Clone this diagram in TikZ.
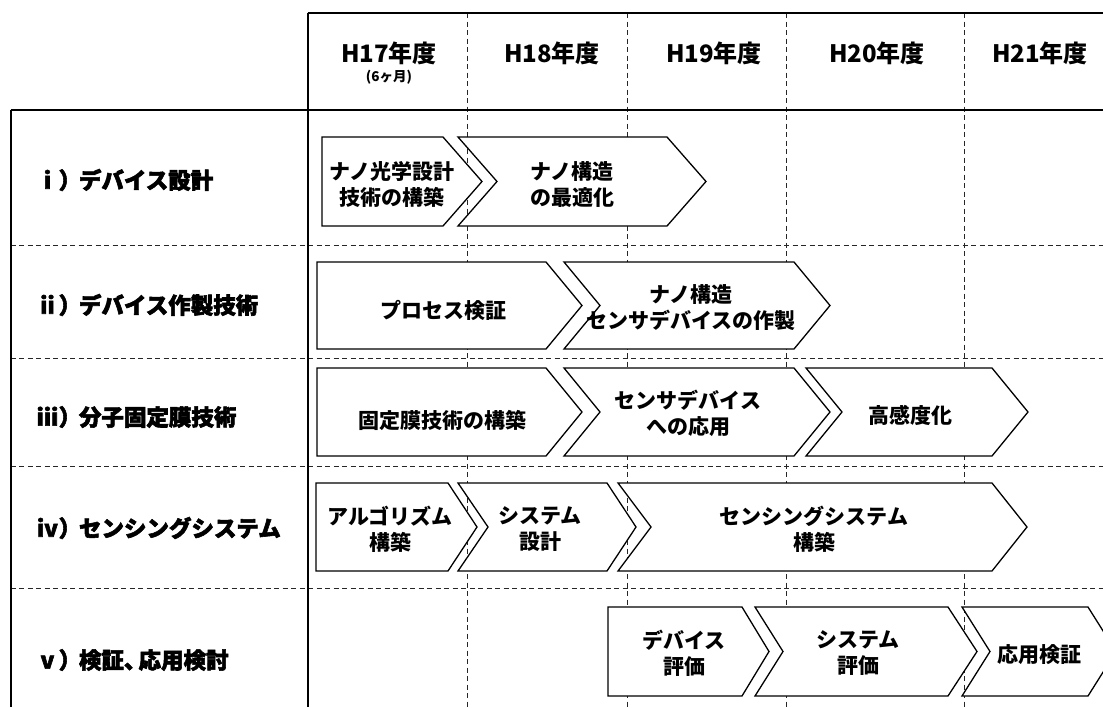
\documentclass[tikz,border=0pt]{standalone}
\usepackage{fontspec}
\setmainfont{Noto Sans CJK JP}
\newfontfamily\heavyfont{Noto Sans CJK JP}[BoldFeatures={FakeBold=2.5}]
\tikzset{
  frame/.style={line width=1.8pt, black},
  gridline/.style={line width=0.9pt, black!85, dash pattern=on 5pt off 3.5pt},
  chev/.style={line width=1.3pt, fill=white, line join=miter},
  txt/.style={font=\bfseries\fontsize{21}{26}\selectfont, align=center, inner sep=0pt},
  head/.style={font=\bfseries\fontsize{24}{28}\selectfont, inner sep=0pt},
  subhead/.style={font=\bfseries\fontsize{13.5}{15}\selectfont, inner sep=0pt},
  lab/.style={font=\heavyfont\bfseries\fontsize{22.5}{26}\selectfont, anchor=west, inner sep=0pt},
}
\newcommand\chevbox[6]{\draw[chev] (#1,#5) -- (#3,#5) -- (#4,{(#5+#6)/2}) -- (#3,#6) -- (#1,#6) -- ({#1+#2},{(#5+#6)/2}) -- cycle;}
\begin{document}
\begin{tikzpicture}[x=1pt,y=-1pt]
\useasboundingbox (0,0) rectangle (1103,707);
\clip (0,0) rectangle (1103,707);
% grid
\foreach \gx in {467,627,786,964} \draw[gridline] (\gx,13) -- (\gx,707);
\foreach \gy in {245,358,466,588} \draw[gridline] (10.7,\gy) -- (1103,\gy);
% frame
\draw[frame] (307.7,13) -- (1103,13);
\draw[frame] (10.7,110) -- (1103,110);
\draw[frame] (10.7,110) -- (10.7,707);
\draw[frame] (307.7,13) -- (307.7,707);
% header
\node[head] (h17) at (389,53) {H17年度};
\node[subhead] (h17s) at (389,77) {(6ヶ月)};
\node[head] (h18) at (552,53) {H18年度};
\node[head] (h19) at (714,53) {H19年度};
\node[head] (h20) at (877,53) {H20年度};
\node[head] (h21) at (1040,53) {H21年度};
% row labels
\node[lab] (l1) at (36,180) {ⅰ）\kern-0.1em デバイス設計};
\node[lab] (l2) at (36,305) {ⅱ）\kern-0.1em デバイス作製技術};
\node[lab] (l3) at (36,417) {ⅲ）\kern-0.1em 分子固定膜技術};
\node[lab] (l4) at (36,528) {ⅳ）\kern-0.1em センシングシステム};
\node[lab] (l5) at (36,660) {ⅴ）\kern-0.1em 検証、\kern-0.35em 応用検討};
% chevrons
\chevbox{322}{0}{443}{482}{137}{226}
\chevbox{458}{39}{667}{706}{137}{226}
\chevbox{317}{0}{546}{582}{262}{349}
\chevbox{564}{36}{794}{830}{262}{349}
\chevbox{317}{0}{546}{582}{368}{456}
\chevbox{564}{36}{794}{830}{368}{456}
\chevbox{806}{36}{992}{1028}{368}{456}
\chevbox{316}{0}{448}{477}{483}{571}
\chevbox{458}{30}{607}{636}{483}{571}
\chevbox{618}{33}{992}{1027}{483}{571}
\chevbox{608}{0}{742}{769}{607}{696}
\chevbox{755}{28}{948}{977}{607}{696}
\chevbox{962}{28}{1088}{1116}{607}{696}
% texts
\node[txt] (t11) at (392,184) {ナノ光学設計\\技術の構築};
\node[txt] (t12) at (572,185) {ナノ構造\\の最適化};
\node[txt] (t21) at (443,310) {プロセス検証};
\node[txt] (t22) at (691,308) {ナノ構造\\センサデバイスの作製};
\node[txt] (t31) at (442,420) {固定膜技術の構築};
\node[txt] (t32) at (688,413) {センサデバイス\\への応用};
\node[txt] (t33) at (910,415) {高感度化};
\node[txt] (t41) at (390,529) {アルゴリズム\\構築};
\node[txt] (t42) at (540,529) {システム\\設計};
\node[txt] (t43) at (814,529) {センシングシステム\\構築};
\node[txt] (t51) at (684,653) {デバイス\\評価};
\node[txt] (t52) at (858,653) {システム\\評価};
\node[txt] (t53) at (1039,655) {応用検証};
\end{tikzpicture}
\end{document}
